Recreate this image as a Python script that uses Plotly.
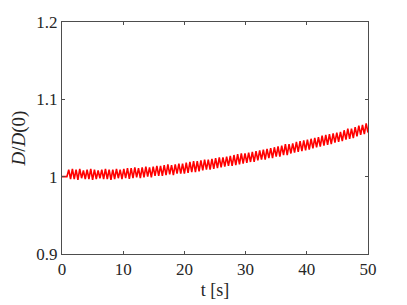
import numpy as np
import plotly.graph_objects as go

# Flat start segment
t_start = [0.0, 0.8]
d_start = [1.0, 1.0]

# Oscillation extremes (peaks at t=1.1+0.6j, troughs at t=1.4+0.6j)
peaks = [1.009, 1.010, 1.009, 1.010, 1.008, 1.009, 1.010, 1.009, 1.008, 1.009, 1.010, 1.009, 1.009, 1.010, 1.009,
         1.010, 1.011, 1.011, 1.012, 1.011, 1.012, 1.013, 1.012,
         1.013, 1.014, 1.014, 1.015, 1.016, 1.015, 1.016, 1.017,
         1.017, 1.018, 1.019, 1.020, 1.020, 1.021, 1.022, 1.022,
         1.023, 1.024, 1.025, 1.025, 1.026, 1.027, 1.028, 1.029,
         1.030, 1.030, 1.031, 1.032, 1.033, 1.034, 1.035, 1.036,
         1.037, 1.038, 1.039, 1.040, 1.042, 1.042, 1.043, 1.045,
         1.046, 1.047, 1.048, 1.049, 1.050, 1.051, 1.053, 1.054,
         1.055, 1.056, 1.057, 1.058, 1.060, 1.062, 1.062, 1.064, 1.066, 1.067, 1.069]
troughs = [0.997, 0.997, 0.996, 0.998, 0.997, 0.997, 0.996, 0.997, 0.998, 0.997, 0.997, 0.996, 0.997, 0.998, 0.997,
           0.998, 0.997, 0.998, 0.999, 0.998, 0.999, 1.000, 0.999,
           1.001, 1.001, 1.001, 1.002, 1.003, 1.002, 1.004, 1.004,
           1.004, 1.005, 1.006, 1.006, 1.007, 1.008, 1.009, 1.009,
           1.010, 1.011, 1.012, 1.013, 1.014, 1.014, 1.015, 1.016,
           1.017, 1.018, 1.019, 1.019, 1.021, 1.022, 1.022, 1.024,
           1.024, 1.026, 1.026, 1.028, 1.028, 1.030, 1.031, 1.032,
           1.033, 1.034, 1.035, 1.0365, 1.038, 1.039, 1.040, 1.041,
           1.042, 1.044, 1.045, 1.046, 1.048, 1.049, 1.050, 1.052, 1.054, 1.055, 1.057]

x_ticks = [0, 10, 20, 30, 40, 50]
y_ticks = [0.9, 1.0, 1.1, 1.2]
y_tick_labels = ["0.9", "1", "1.1", "1.2"]

t = list(t_start)
d = list(d_start)
for j, (p, q) in enumerate(zip(peaks, troughs)):
    t += [1.1 + 0.6 * j, 1.4 + 0.6 * j]
    d += [p, q]

FONT = "Liberation Serif"

fig = go.Figure(go.Scatter(x=t, y=d, mode="lines",
                           line=dict(color="#ff0000", width=1.6)))

axis_common = dict(showline=True, linecolor="#4d4d4d", linewidth=1, mirror="ticks",
                   ticks="inside", ticklen=3, tickcolor="#4d4d4d", showgrid=False,
                   zeroline=False, automargin=False,
                   tickfont=dict(family=FONT, size=17, color="#262626"))

fig.update_xaxes(range=[0, 50], tickvals=x_ticks, **axis_common,
                 title=dict(text="t [s]", font=dict(family=FONT, size=18, color="#262626"),
                            standoff=4))
fig.update_yaxes(range=[0.9, 1.2], tickvals=y_ticks, ticktext=y_tick_labels, **axis_common,
                 title=dict(text="<i>D</i>/<i>D</i>(0)", font=dict(family=FONT, size=19, color="#262626"),
                            standoff=6))

fig.update_layout(width=399, height=297, plot_bgcolor="white", paper_bgcolor="white",
                  font=dict(family=FONT),
                  margin=dict(l=54, r=39, t=14, b=51), showlegend=False)

fig.write_html("out.html")
